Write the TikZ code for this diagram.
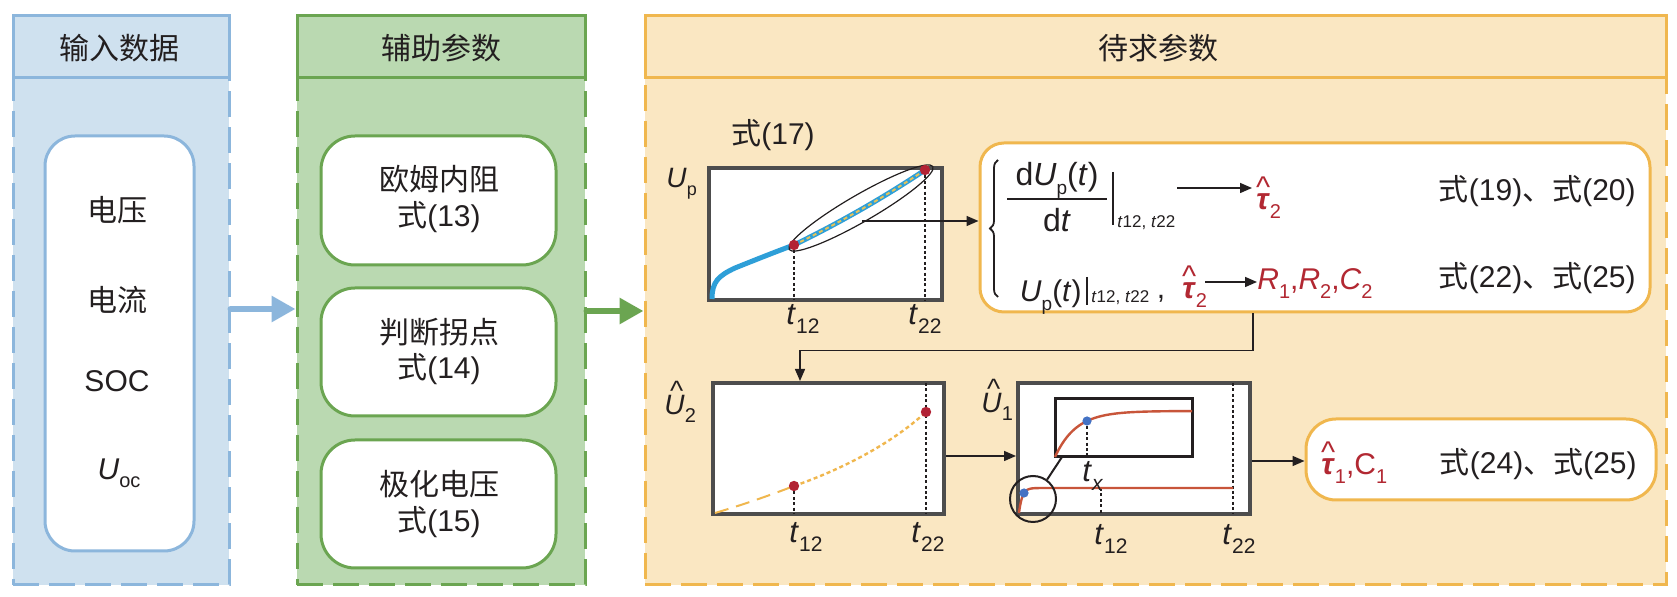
\documentclass[tikz,border=0pt]{standalone}
\usepackage{fontspec}
\setmainfont{Liberation Sans}
\newfontfamily\cjk{Noto Sans CJK SC}
\usetikzlibrary{arrows.meta,fit,shapes.geometric,decorations.pathreplacing,calc}
\definecolor{bfill}{HTML}{CFE1EF}
\definecolor{bline}{HTML}{8CB6DC}
\definecolor{gfill}{HTML}{BAD9B1}
\definecolor{gline}{HTML}{6BA551}
\definecolor{ofill}{HTML}{FAE7C2}
\definecolor{oline}{HTML}{F0B74E}
\definecolor{frame}{HTML}{4D4D4D}
\definecolor{tred}{HTML}{B22832}
\definecolor{dred}{HTML}{B22234}
\definecolor{cblue}{HTML}{2E9FD8}
\definecolor{cyel}{HTML}{E2C25A}
\definecolor{corange}{HTML}{C8553A}
\definecolor{dotblue}{HTML}{4472C4}
\definecolor{txt}{HTML}{231F20}
\newcommand\sub[2][10]{\raisebox{-0.28em}{\fontsize{#1}{#1}\selectfont #2}}
\newcommand\hatx[3][0pt]{\leavevmode\setbox0\hbox{#3}\rlap{\hbox to\wd0{\hss\kern#1\raisebox{#2}{\char"5E}\hss}}\box0}
\begin{document}
\begin{tikzpicture}[x=0.5pt,y=-0.5pt,
  every node/.style={text=txt, font=\fontsize{15}{19}\selectfont},
  box/.style={inner sep=0pt, line width=1.5pt},
  dashbody/.style={box, dash pattern=on 13pt off 5pt},
  plotframe/.style={inner sep=0pt, draw=frame, fill=white, line width=2pt},
  arr/.style={draw=txt, line width=0.75pt, -{Triangle[length=6pt,width=5pt]}},
  vdot/.style={draw=txt, line width=0.7pt, dash pattern=on 1.5pt off 1.2pt},
  lab/.style={anchor=base west, inner sep=0pt, font=\fontsize{15.5}{16}\selectfont},
  ulab/.style={anchor=base west, inner sep=0pt, font=\fontsize{14}{15}\selectfont},
  bigarr/.style={line width=3pt, line cap=round, -{Triangle[length=12pt,width=12.5pt]}},
]
\useasboundingbox (0,0) rectangle (1677,597);

% ---------- panels ----------
\node[fit={(13,78) (229,585)}, dashbody, draw=bline, fill=bfill] (bbody) {};
\node[fit={(13,16) (229,78)}, box, draw=bline, fill=bfill] (btitle) {};
\node (btxt) at (120,48) {\cjk 输入数据};
\node[fit={(297,78) (585,585)}, dashbody, draw=gline, fill=gfill] (gbody) {};
\node[fit={(297,16) (585,78)}, box, draw=gline, fill=gfill] (gtitle) {};
\node (gtxt) at (441,48) {\cjk 辅助参数};
\node[fit={(645,78) (1666,585)}, dashbody, draw=oline, fill=ofill] (obody) {};
\node[fit={(645,16) (1666,78)}, box, draw=oline, fill=ofill] (otitle) {};
\node (otxt) at (1158,48) {\cjk 待求参数};

% ---------- input box ----------
\node[fit={(45,136) (194,551)}, box, draw=bline, fill=white, rounded corners=15pt] (binner) {};
\node (v1) at (117,210) {\cjk 电压};
\node (v2) at (117,300) {\cjk 电流};
\node (v3) at (117,381) {SOC};
\node (v4) at (119,473) {\textit{U}\sub{oc}};

% ---------- auxiliary boxes ----------
\node[fit={(321,136) (556,265)}, box, draw=gline, fill=white, rounded corners=17pt] (g1) {};
\node (g1a) at (439,179) {\cjk 欧姆内阻};
\node (g1b) at (439,217) {{\cjk 式}(13)};
\node[fit={(321,288) (556,416)}, box, draw=gline, fill=white, rounded corners=17pt] (g2) {};
\node (g2a) at (439,332) {\cjk 判断拐点};
\node (g2b) at (439,369) {{\cjk 式}(14)};
\node[fit={(321,440) (556,568)}, box, draw=gline, fill=white, rounded corners=17pt] (g3) {};
\node (g3a) at (439,484) {\cjk 极化电压};
\node (g3b) at (439,522) {{\cjk 式}(15)};

% ---------- big arrows ----------
\coordinate (ya) at (0,309);
\coordinate (yb) at (0,311);
\draw[bigarr, draw=bline, fill=bline] (bbody.east |- ya) -- (gbody.west |- ya);
\draw[bigarr, draw=gline, fill=gline] (gbody.east |- yb) -- (obody.west |- yb);

% ---------- plot 1 ----------
\node (f17) at (773,135) {{\cjk 式}(17)};
\node[fit={(709,168) (942,300)}, plotframe] (p1) {};
\draw[vdot] (794,245) -- (794,300);
\draw[vdot] (925,170) -- (925,300);
\draw[cblue, line width=2.5pt] (712,299) .. controls (712,282) and (718,276) .. (735,268) .. controls (755,260) and (775,252) .. (794,245);
\draw[cblue, line width=2.5pt] (794,245) .. controls (835,225) and (880,200) .. (925,170);
\draw[cyel, line width=1pt, dash pattern=on 2pt off 1.5pt] (794,245) .. controls (835,225) and (880,200) .. (925,170);
\node[draw=txt, ellipse, rotate=30, minimum width=83pt, minimum height=13.5pt, inner sep=0pt, line width=0.6pt] (ell) at (861,208) {};
\fill[dred] (794,245) circle[radius=2.6pt];
\fill[dred] (925,170) circle[radius=2.6pt];
\node[ulab] (lu1) at (666,188) {\textit{U}\sub[9]{p}};
\node[lab] (l1a) at (786,325) {\textit{t}\sub[10.5]{12}};
\node[lab] (l1b) at (908,325) {\textit{t}\sub[10.5]{22}};

% ---------- big result box ----------
\node[fit={(980,143) (1650,312)}, box, draw=oline, fill=white, rounded corners=12pt] (bigbox) {};
\coordinate (es) at (862,221);
\draw[arr] (es) -- (es -| bigbox.west);
\draw[decorate, decoration={brace, amplitude=4pt}, line width=0.9pt, txt] (998,297) -- (998,160);
% row 1
\node[anchor=base, inner sep=0pt, font=\fontsize{16}{17}\selectfont] (num) at (1057,186) {d\textit{U}\sub[9.5]{p}(\textit{t})};
\node[anchor=base, inner sep=0pt, font=\fontsize{16}{17}\selectfont] (den) at (1057,232) {d\textit{t}};
\draw[txt, line width=0.75pt] (1007,199) -- (1107,199);
\draw[txt, line width=0.8pt] (1113,172) -- (1113,225);
\node[anchor=base west, inner sep=0pt, font=\fontsize{8.5}{9}\selectfont] (s1) at (1117,228) {\textit{t}12, \textit{t}22};
\node[anchor=base west, inner sep=0pt, text=tred] (tau1) at (1256,210) {\hatx{0.4em}{\textbf{\textit{τ}}}\sub{2}};
\coordinate (r1a) at (1177,188);
\draw[arr] (r1a) -- (1252,188);
\node[anchor=base east, inner sep=0pt] (e1) at (1636,201) {{\cjk 式}(19){\cjk 、式}(20)};
% row 2
\node[anchor=base east, inner sep=0pt, font=\fontsize{15}{16}\selectfont] (u2) at (1082,302) {\textit{U}\sub[9.5]{p}(\textit{t})};
\draw[txt, line width=0.8pt] (1087,277) -- (1087,305);
\node[anchor=base west, inner sep=0pt, font=\fontsize{8.5}{9}\selectfont] (s2) at (1091,303) {\textit{t}12, \textit{t}22};
\node[anchor=base, inner sep=0pt] (cm) at (1161,299) {,};
\node[anchor=base west, inner sep=0pt, text=tred] (tau2) at (1182,299) {\hatx{0.4em}{\textbf{\textit{τ}}}\sub{2}};
\coordinate (r2a) at (1205,282);
\node[anchor=base west, inner sep=0pt, text=tred] (rrc) at (1257,290) {\textit{R}\sub{1},\textit{R}\sub{2},\textit{C}\sub{2}};
\draw[arr] (r2a) -- (r2a -| rrc.west);
\node[anchor=base east, inner sep=0pt] (e2) at (1636,288) {{\cjk 式}(22){\cjk 、式}(25)};

% ---------- plot 2 ----------
\node[fit={(713,383) (944,514)}, plotframe] (p2) {};
\draw[vdot] (794,486) -- (794,514);
\draw[vdot] (926,383) -- (926,514);
\draw[oline, line width=1pt, dash pattern=on 7pt off 4pt] (715,513) .. controls (742,505) and (768,496) .. (794,486);
\draw[oline, line width=1.2pt, dash pattern=on 2pt off 1.5pt] (794,486) .. controls (840,470) and (890,445) .. (926,412);
\fill[dred] (794,486) circle[radius=2.6pt];
\fill[dred] (926,412) circle[radius=2.6pt];
\node[ulab] (lu2) at (664,415) {\hatx[2pt]{0.52em}{\textit{U}}\sub[10]{2}};
\node[lab] (l2a) at (789,543) {\textit{t}\sub[10.5]{12}};
\node[lab] (l2b) at (911,543) {\textit{t}\sub[10.5]{22}};
\coordinate (bx) at (1253,0);
\draw[arr] (bigbox.south -| bx) -- ++(0,37) -| (p2.north -| 800,0);

% ---------- plot 3 ----------
\node[fit={(1018,383) (1250,514)}, plotframe] (p3) {};
\coordinate (yc) at (0,456);
\draw[arr] (p2.east |- yc) -- (p3.west |- yc);
\draw[vdot] (1101,488) -- (1101,514);
\draw[vdot] (1233,383) -- (1233,514);
\draw[corange, line width=1.2pt] plot[domain=0:25, samples=50, smooth] ({1019+\x},{513-25*(1-exp(-\x/3.2))}) -- (1233,488);
\fill[dotblue] (1024,493) circle[radius=2.3pt];
\node[fit={(1055,399) (1192,457)}, inner sep=0pt, draw=txt, fill=white, line width=1.5pt] (inset) {};
\draw[vdot] (1087,421) -- (1087,457);
\draw[corange, line width=1.2pt] plot[domain=0:137, samples=80, smooth] ({1055+\x},{457-46*(1-exp(-\x/21))});
\fill[dotblue] (1087,421) circle[radius=2.3pt];
\node[circle, draw=txt, minimum size=23pt, inner sep=0pt, line width=1pt] (zc) at (1033,499) {};
\coordinate (insc) at (1062,457);
\draw[txt, line width=1pt] (zc.54) -- (insc);
\node[lab] (ltx) at (1082,482) {\textit{t}\sub[10.5]{\textit{x}}};
\node[ulab] (lu3) at (981,413) {\hatx[2pt]{0.52em}{\textit{U}}\sub[10]{1}};
\node[lab] (l3a) at (1094,545) {\textit{t}\sub[10.5]{12}};
\node[lab] (l3b) at (1222,545) {\textit{t}\sub[10.5]{22}};

% ---------- tau1 box ----------
\node[fit={(1306,419) (1656,500)}, box, draw=oline, fill=white, rounded corners=15pt] (taubox) {};
\coordinate (yd) at (0,461);
\draw[arr] (p3.east |- yd) -- (taubox.west |- yd);
\node[anchor=base west, inner sep=0pt, text=tred] (tc) at (1321,475) {\hatx{0.4em}{\textbf{\textit{τ}}}\sub{1},C\sub{1}};
\node[anchor=base east, inner sep=0pt] (e3) at (1637,474) {{\cjk 式}(24){\cjk 、式}(25)};
\end{tikzpicture}
\end{document}
